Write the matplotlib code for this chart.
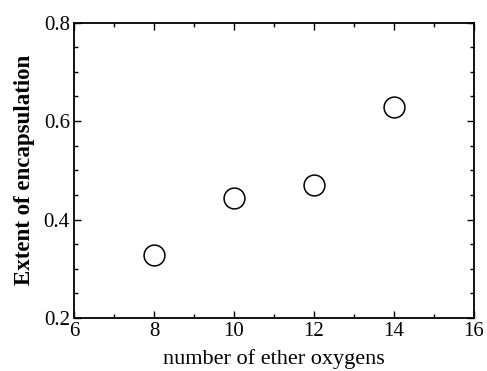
import matplotlib
matplotlib.use("Agg")
import matplotlib.pyplot as plt
from matplotlib.ticker import MultipleLocator

# data
ether_oxygens = [8, 10, 12, 14]
encapsulation = [0.328, 0.443, 0.470, 0.628]

plt.rcParams['font.family'] = ['Liberation Serif', 'DejaVu Serif']

fig = plt.figure(figsize=(4.87, 3.71), dpi=100)
ax = fig.add_axes([0.152, 0.143, 0.821, 0.796])

ax.plot(ether_oxygens, encapsulation, linestyle='none', marker='o',
        markersize=15, markerfacecolor='white', markeredgecolor='black',
        markeredgewidth=1.1)

ax.set_xlim(6, 16)
ax.set_ylim(0.2, 0.8)
ax.xaxis.set_major_locator(MultipleLocator(2))
ax.xaxis.set_minor_locator(MultipleLocator(1))
ax.yaxis.set_major_locator(MultipleLocator(0.2))
ax.yaxis.set_minor_locator(MultipleLocator(0.05))
ax.tick_params(which='both', direction='in', top=True, right=True,
               labelsize=15, width=1.0)
ax.tick_params(which='major', length=5, pad=3)
ax.tick_params(which='minor', length=3)
for s in ax.spines.values():
    s.set_linewidth(1.3)

ax.set_xlabel('number of ether oxygens', fontsize=16, labelpad=6)
ax.set_ylabel('Extent of encapsulation', fontsize=16.5, fontweight='bold',
              labelpad=6)

fig.savefig('out.png', dpi=100)
